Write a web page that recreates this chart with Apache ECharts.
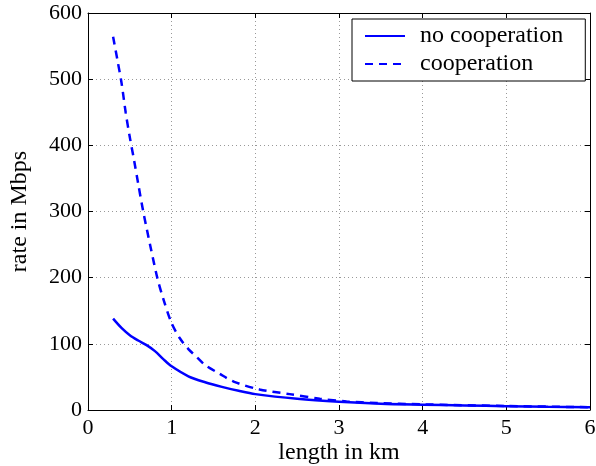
<!DOCTYPE html>
<html>
<head>
<meta charset="utf-8">
<script src="https://cdn.jsdelivr.net/npm/echarts@6/dist/echarts.min.js"></script>
<style>html,body{margin:0;padding:0;background:#fff;}#c{width:596px;height:466px;}</style>
</head>
<body>
<div id="c"></div>
<script>
const seriesNames = ['no cooperation', 'cooperation'];
const xNoCoop = [0.3, 0.4, 0.5, 0.6, 0.7, 0.8, 0.9, 1.0, 1.2, 1.4, 1.6, 1.8, 2.0, 2.5, 3.0, 3.5, 4.0, 4.5, 5.0, 5.5, 6.0];
const yNoCoop = [138, 124, 113, 105, 98, 89, 77, 66, 51, 42, 35, 29, 24, 17, 12.5, 9.5, 8, 6.8, 5.8, 4.8, 4];
const xCoop = [0.3, 0.35, 0.4, 0.45, 0.5, 0.55, 0.6, 0.66, 0.75, 0.83, 0.9, 1.0, 1.1, 1.2, 1.3, 1.4, 1.57, 1.74, 2.05, 2.41, 2.77, 3.09, 3.45, 4.0, 5.0, 6.0];
const yCoop = [564, 530, 495, 450, 412, 378, 342, 300, 245, 199, 168, 131, 108, 92, 80, 68, 55, 43, 31, 24, 17, 13, 10.5, 8.5, 6, 4.2];
const xTicks = [0, 1, 2, 3, 4, 5, 6];
const yTicks = [0, 100, 200, 300, 400, 500, 600];

const font = 'Liberation Serif';
const pairs = (xs, ys) => xs.map((x, i) => [x, ys[i]]);
const chart = echarts.init(document.getElementById('c'));
const gridLine = {show: true, lineStyle: {color: '#999', type: [1, 3], width: 1}};
chart.setOption({
  animation: false,
  backgroundColor: '#fff',
  grid: {left: 88, right: 6, top: 13, bottom: 56, show: false, containLabel: false, outerBoundsMode: 'none'},
  legend: {
    left: 352, top: 19, orient: 'vertical',
    padding: [5, 22, 5, 12],
    itemWidth: 40, itemHeight: 12, itemGap: 4,
    itemStyle: {opacity: 0},
    backgroundColor: '#fff', borderColor: '#000', borderWidth: 1,
    textStyle: {fontFamily: font, fontSize: 24, color: '#000', padding: [0, 0, 0, 10]},
    data: seriesNames
  },
  xAxis: [{
    type: 'value', min: xTicks[0], max: xTicks[xTicks.length - 1], interval: 1,
    name: 'length in km', nameLocation: 'middle', nameGap: 31, nameMoveOverlap: false,
    nameTextStyle: {fontFamily: font, fontSize: 24, color: '#000'},
    axisLine: {show: true, onZero: false, lineStyle: {color: '#000', width: 1}},
    axisTick: {show: true, inside: true, length: 5, lineStyle: {color: '#000'}},
    axisLabel: {fontFamily: font, fontSize: 22, color: '#000', margin: 7},
    splitLine: gridLine
  }, {
    type: 'value', position: 'top', min: xTicks[0], max: xTicks[xTicks.length - 1], interval: 1,
    axisLine: {show: true, onZero: false, lineStyle: {color: '#000', width: 1}},
    axisTick: {show: true, inside: true, length: 5, lineStyle: {color: '#000'}},
    axisLabel: {show: false}, splitLine: {show: false}
  }],
  yAxis: [{
    type: 'value', min: yTicks[0], max: yTicks[yTicks.length - 1], interval: 100,
    name: 'rate in Mbps', nameLocation: 'middle', nameGap: 56, nameMoveOverlap: false,
    nameTextStyle: {fontFamily: font, fontSize: 24, color: '#000'},
    axisLine: {show: true, onZero: false, lineStyle: {color: '#000', width: 1}},
    axisTick: {show: true, inside: true, length: 5, lineStyle: {color: '#000'}},
    axisLabel: {fontFamily: font, fontSize: 22, color: '#000', margin: 6},
    splitLine: gridLine
  }, {
    type: 'value', position: 'right', min: yTicks[0], max: yTicks[yTicks.length - 1], interval: 100,
    axisLine: {show: true, onZero: false, lineStyle: {color: '#000', width: 1}},
    axisTick: {show: true, inside: true, length: 5, lineStyle: {color: '#000'}},
    axisLabel: {show: false}, splitLine: {show: false}
  }],
  series: [{
    name: seriesNames[0], type: 'line', smooth: 0.3, symbol: 'none',
    data: pairs(xNoCoop, yNoCoop),
    lineStyle: {color: '#0000ff', width: 2.5, type: 'solid'}, itemStyle: {color: '#0000ff'}
  }, {
    name: seriesNames[1], type: 'line', smooth: 0.3, symbol: 'none',
    data: pairs(xCoop, yCoop),
    lineStyle: {color: '#0000ff', width: 2.5, type: [8, 6]}, itemStyle: {color: '#0000ff'}
  }]
});
</script>
</body>
</html>
